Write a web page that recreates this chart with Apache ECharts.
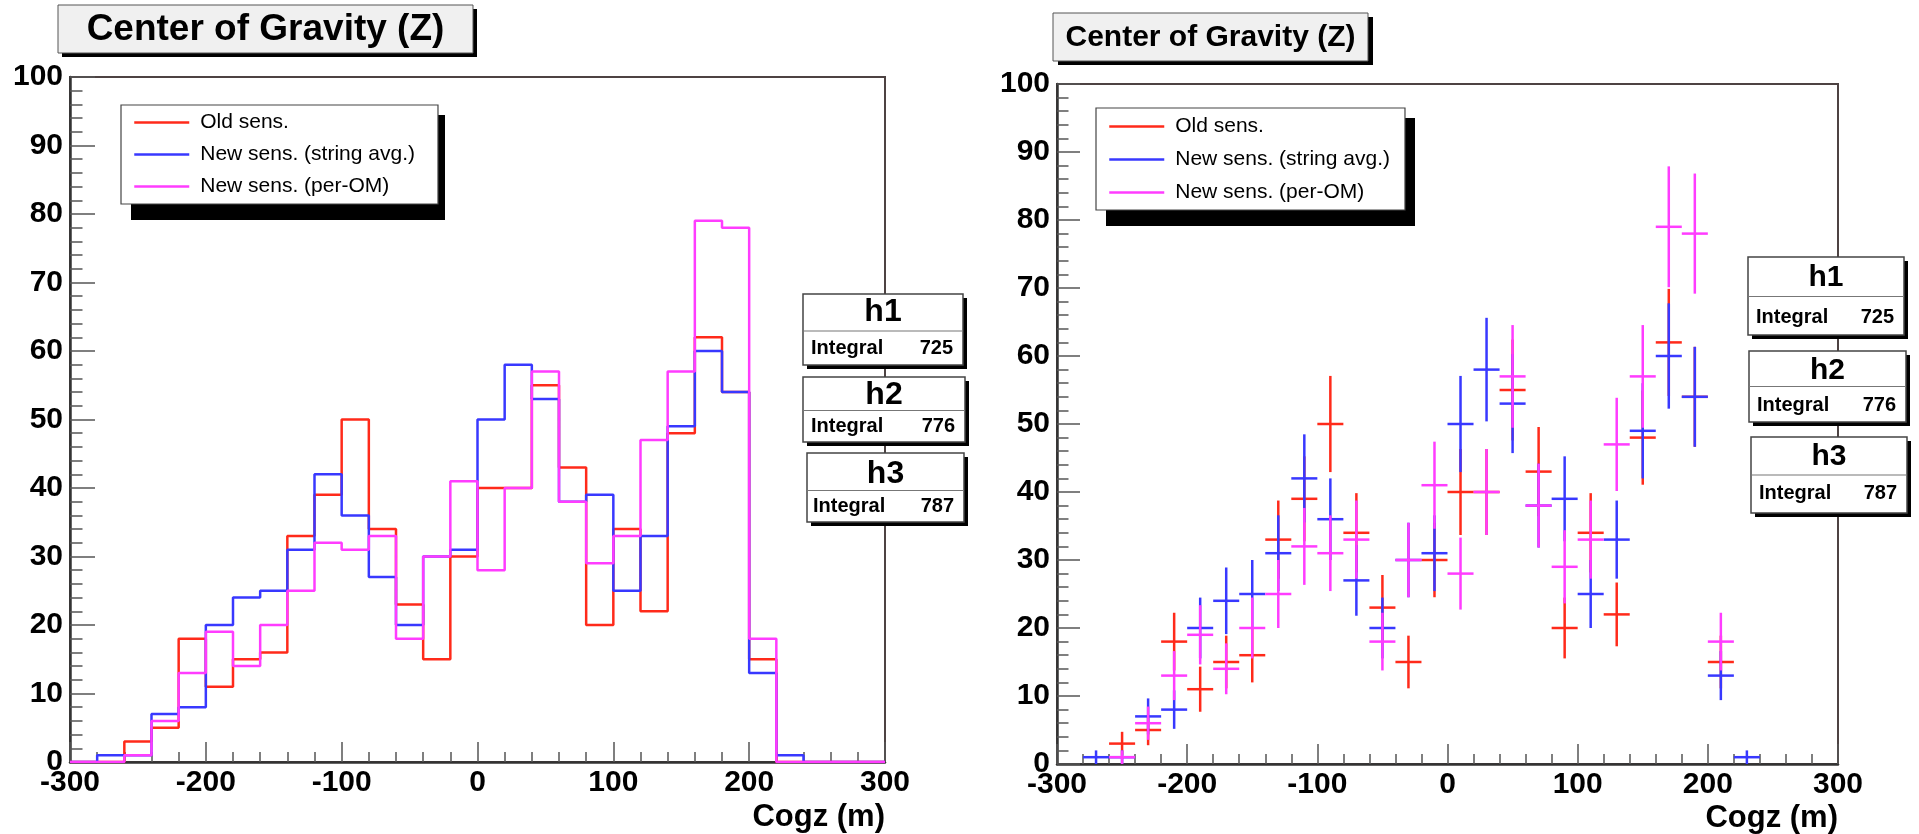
<!DOCTYPE html>
<html>
<head>
<meta charset="utf-8">
<script src="https://cdn.jsdelivr.net/npm/echarts@6/dist/echarts.min.js"></script>
<style>
html,body{margin:0;padding:0;background:#fff;}
#chart{width:1919px;height:834px;}
</style>
</head>
<body>
<div id="chart"></div>
<script>
// ---- data (bin centers, Cogz in m; bin width 20) ----
const binCenters = [-290,-270,-250,-230,-210,-190,-170,-150,-130,-110,-90,-70,-50,-30,-10,
                    10,30,50,70,90,110,130,150,170,190,210,230,250,270,290];
const binWidth = 20;
const oldSens   = [0,0,3,5,18,11,15,16,33,39,50,34,23,15,30,40,40,55,43,20,34,22,48,62,54,15,0,0,0,0];
const newString = [0,1,1,7,8,20,24,25,31,42,36,27,20,30,31,50,58,53,38,39,25,33,49,60,54,13,1,0,0,0];
const newPerOM  = [0,0,1,6,13,19,14,20,25,32,31,33,18,30,41,28,40,57,38,29,33,47,57,79,78,18,0,0,0,0];
const seriesNames = ['Old sens.', 'New sens. (string avg.)', 'New sens. (per-OM)'];
const seriesColors = ['#ff2a1a', '#3838ff', '#ff3cff'];
const integrals = [725, 776, 787];
const histNames = ['h1', 'h2', 'h3'];
const xTicks = { min: -300, max: 300, interval: 100 };
const yTicks = { min: 0, max: 100, interval: 10 };
const xTitle = 'Cogz (m)';
const plotTitle = 'Center of Gravity (Z)';

const allValues = [oldSens, newString, newPerOM];
const FONT = '"Liberation Sans", Arial, Helvetica, sans-serif';

function stepData(vals) {
  const d = vals.map((v, i) => [binCenters[i] - binWidth / 2, v]);
  d.push([binCenters[binCenters.length - 1] + binWidth / 2, vals[vals.length - 1]]);
  return d;
}
function errData(vals) {
  const d = [];
  vals.forEach((v, i) => { if (v > 0) d.push([binCenters[i], v, Math.sqrt(v)]); });
  return d;
}
function makeRender(color) {
  return function (params, api) {
    const x = api.value(0), y = api.value(1), e = api.value(2);
    const pL = api.coord([x - binWidth / 2, y]);
    const pR = api.coord([x + binWidth / 2, y]);
    const pT = api.coord([x, y + e]);
    const pB = api.coord([x, y - e]);
    const st = { stroke: color, lineWidth: 2.5 };
    return {
      type: 'group',
      children: [
        { type: 'line', shape: { x1: pL[0], y1: pL[1], x2: pR[0], y2: pR[1] }, style: st },
        { type: 'line', shape: { x1: pT[0], y1: pT[1], x2: pB[0], y2: pB[1] }, style: st }
      ]
    };
  };
}

function xAxisCfg(gridIndex, majorLen) {
  return {
    type: 'value', gridIndex: gridIndex, min: xTicks.min, max: xTicks.max, interval: xTicks.interval,
    axisLine: { show: true, onZero: false, lineStyle: { color: '#333', width: 2.5 } },
    axisTick: { show: true, inside: true, length: majorLen, lineStyle: { color: '#555', width: 1.5 } },
    minorTick: { show: true, splitNumber: 5, length: majorLen / 2, lineStyle: { color: '#555', width: 1.5 } },
    splitLine: { show: false },
    axisLabel: { color: '#000', fontSize: 30, fontWeight: 'bold', fontFamily: FONT, margin: 6 }
  };
}
function yAxisCfg(gridIndex, majorLen) {
  return {
    type: 'value', gridIndex: gridIndex, min: yTicks.min, max: yTicks.max, interval: yTicks.interval,
    axisLine: { show: true, onZero: false, lineStyle: { color: '#333', width: 2.5 } },
    axisTick: { show: true, inside: true, length: majorLen, lineStyle: { color: '#555', width: 1.5 } },
    minorTick: { show: true, splitNumber: 5, length: majorLen / 2, lineStyle: { color: '#555', width: 1.5 } },
    splitLine: { show: false },
    axisLabel: { color: '#000', fontSize: 30, fontWeight: 'bold', fontFamily: FONT, margin: 7 }
  };
}

const series = [];
allValues.forEach((vals, k) => {
  series.push({
    name: seriesNames[k], type: 'line', xAxisIndex: 0, yAxisIndex: 0,
    step: 'end', symbol: 'none', showSymbol: false, data: stepData(vals),
    lineStyle: { color: seriesColors[k], width: 2.5 }, itemStyle: { color: seriesColors[k] },
    animation: false, z: 2 + k
  });
});
allValues.forEach((vals, k) => {
  series.push({
    name: seriesNames[k], type: 'custom', xAxisIndex: 1, yAxisIndex: 1,
    renderItem: makeRender(seriesColors[k]), data: errData(vals),
    itemStyle: { color: seriesColors[k] }, animation: false, z: 2 + k
  });
});

function titleBox(x, y, w, h, sx, sy, fs, tx, ty) {
  return {
    type: 'group', z: 20,
    children: [
      { type: 'rect', shape: { x: x + sx, y: y + sy, width: w, height: h }, style: { fill: '#000' } },
      { type: 'rect', shape: { x: x, y: y, width: w, height: h }, style: { fill: '#f0f0f0', stroke: '#555', lineWidth: 1 } },
      { type: 'text', x: tx, y: ty, style: { text: plotTitle, fill: '#000', font: 'bold ' + fs + 'px ' + FONT, textAlign: 'center', textVerticalAlign: 'middle' } }
    ]
  };
}
function statBox(i, x, y, w, h, divY, hY, intY, hFs, iFs, intLeft, numRight) {
  return {
    type: 'group', z: 20,
    children: [
      { type: 'rect', shape: { x: x + 4, y: y + 4, width: w, height: h }, style: { fill: '#000' } },
      { type: 'rect', shape: { x: x, y: y, width: w, height: h }, style: { fill: '#fff', stroke: '#444', lineWidth: 1.5 } },
      { type: 'line', shape: { x1: x, y1: divY, x2: x + w, y2: divY }, style: { stroke: '#777', lineWidth: 1.2 } },
      { type: 'text', x: x + w / 2, y: hY, style: { text: histNames[i], fill: '#000', font: 'bold ' + hFs + 'px ' + FONT, textAlign: 'center', textVerticalAlign: 'middle' } },
      { type: 'text', x: intLeft, y: intY, style: { text: 'Integral', fill: '#000', font: 'bold ' + iFs + 'px ' + FONT, textAlign: 'left', textVerticalAlign: 'middle' } },
      { type: 'text', x: numRight, y: intY, style: { text: String(integrals[i]), fill: '#000', font: 'bold ' + iFs + 'px ' + FONT, textAlign: 'right', textVerticalAlign: 'middle' } }
    ]
  };
}

const graphics = [
  titleBox(58, 5, 415, 48, 4, 4, 37, 265.5, 30),
  titleBox(1053, 13, 315, 48, 5, 4, 30, 1210.5, 37.5),
  // legend shadows
  { type: 'rect', z: 3, shape: { x: 131, y: 115, width: 314, height: 105 }, style: { fill: '#000' } },
  { type: 'rect', z: 3, shape: { x: 1106, y: 118, width: 309, height: 108 }, style: { fill: '#000' } },
  // stat boxes left
  statBox(0, 803, 294, 160, 71, 331, 312.5, 348, 32, 20, 811, 953),
  statBox(1, 803, 377, 162, 65, 410.5, 395.5, 426, 32, 20, 811, 955),
  statBox(2, 807, 453, 157, 69, 490.5, 474, 506.5, 32, 20, 813, 954),
  // stat boxes right
  statBox(0, 1748, 257, 156, 78, 296.5, 278, 317.5, 30, 20, 1756, 1894),
  statBox(1, 1749, 351, 157, 71, 386.5, 371, 405.5, 30, 20, 1757, 1896),
  statBox(2, 1751, 437, 156, 76, 475, 457, 493.5, 30, 20, 1759, 1897),
  // axis titles
  { type: 'text', z: 20, x: 885, y: 817, style: { text: xTitle, fill: '#000', font: 'bold 31px ' + FONT, textAlign: 'right', textVerticalAlign: 'middle' } },
  { type: 'text', z: 20, x: 1838, y: 818, style: { text: xTitle, fill: '#000', font: 'bold 31px ' + FONT, textAlign: 'right', textVerticalAlign: 'middle' } }
];

const legendBase = {
  orient: 'vertical', itemWidth: 55, itemHeight: 24,
  backgroundColor: '#fff', borderColor: '#444', borderWidth: 1.2,
  selectedMode: false,
  itemStyle: { opacity: 0, borderWidth: 0 },
  lineStyle: { width: 2.5, opacity: 1 },
  textStyle: { color: '#000', fontSize: 21, fontFamily: FONT, padding: [0, 0, 0, 6] },
  data: seriesNames, z: 5
};

const option = {
  backgroundColor: '#fff',
  animation: false,
  grid: [
    { left: 70, top: 77, width: 815, height: 685, show: true, borderColor: '#4d4343', borderWidth: 2 },
    { left: 1057, top: 84, width: 781, height: 680, show: true, borderColor: '#4d4343', borderWidth: 2 }
  ],
  xAxis: [xAxisCfg(0, 20), xAxisCfg(1, 20)],
  yAxis: [yAxisCfg(0, 25), yAxisCfg(1, 23)],
  legend: [
    Object.assign({}, legendBase, { left: 121, top: 105, padding: [7, 23, 7, 12], itemGap: 11 }),
    Object.assign({}, legendBase, { left: 1096, top: 108, padding: [8, 15, 7, 12], itemGap: 12 })
  ],
  graphic: graphics,
  series: series
};

const chart = echarts.init(document.getElementById('chart'), null, { renderer: 'canvas' });
chart.setOption(option);
</script>
</body>
</html>
